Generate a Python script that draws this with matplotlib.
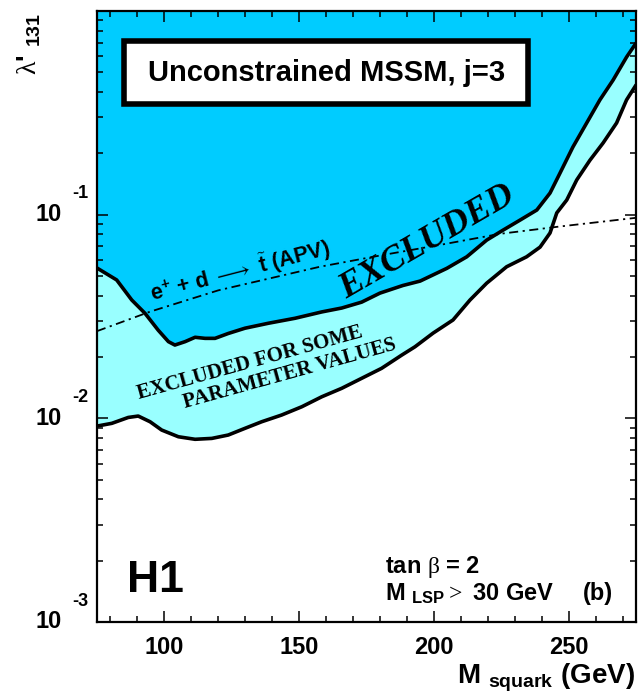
import matplotlib
matplotlib.use('Agg')
import matplotlib.pyplot as plt
import numpy as np
from matplotlib.patches import Rectangle
from matplotlib.ticker import MultipleLocator, LogLocator, NullFormatter
import matplotlib.transforms as mtransforms

# ---------------- data ----------------
X_MIN, X_MAX = 75, 275
Y_MIN, Y_MAX = 1e-3, 1.0

# boundary of the fully excluded region (dark)
upper_x = [75, 82.3, 87.9, 92.8, 97.7, 101.5, 103.9, 107.7, 111.4, 115.1, 118.8,
           123.7, 129.9, 138.6, 148.5, 158.4, 165.8, 173.2, 180.0, 188.5, 194.9,
           204.8, 212.2, 219.6, 225.7, 232.0, 238.2, 243.1, 246.8, 251.6, 256.7,
           261.6, 266.5, 271.5, 275]
upper_y = [0.0547, 0.0478, 0.0381, 0.0328, 0.0271, 0.0238, 0.0229, 0.0238, 0.0250,
           0.0247, 0.0247, 0.0261, 0.0277, 0.0293, 0.0310, 0.0333, 0.0348, 0.0372,
           0.0412, 0.0449, 0.0472, 0.0545, 0.0621, 0.0750, 0.0840, 0.0941, 0.1054,
           0.1277, 0.160, 0.215, 0.282, 0.366, 0.458, 0.594, 0.695]

# boundary of the region excluded for some parameter values (light)
lower_x = [75, 80.5, 86.6, 90.3, 94.7, 99.0, 105.2, 111.4, 117.6, 123.7, 129.9,
           136.1, 143.5, 151.0, 158.4, 165.8, 173.2, 180.6, 188.1, 193.0, 199.7,
           207.1, 213.4, 219.6, 227.0, 234.4, 239.4, 243.1, 245.6, 249.3, 253.0,
           257.9, 262.8, 267.8, 271.5, 275]
lower_y = [0.00916, 0.00945, 0.0101, 0.01026, 0.00962, 0.00876, 0.00812, 0.00789,
           0.00797, 0.00828, 0.00893, 0.00962, 0.01038, 0.0114, 0.01276, 0.01404,
           0.01572, 0.0176, 0.02045, 0.02246, 0.0262, 0.0304, 0.0381, 0.0461,
           0.0555, 0.0621, 0.0693, 0.0813, 0.102, 0.118, 0.148, 0.185, 0.225,
           0.282, 0.366, 0.433]

# APV bound (dash-dotted)
apv_x = [75, 94.7, 120, 157.7, 180, 203.4, 224.5, 246.8, 275]
apv_y = [0.0268, 0.0334, 0.0425, 0.0555, 0.0630, 0.0715, 0.0805, 0.0875, 0.0965]

x_ticks = [100, 150, 200, 250]
x_tick_labels = ['100', '150', '200', '250']
y_ticks = [1e-3, 1e-2, 1e-1]
y_tick_exps = ['-3', '-2', '-1']

DARK = '#00ccff'
LIGHT = '#99ffff'

# ---------------- figure ----------------
plt.rcParams['font.family'] = ['Liberation Sans', 'DejaVu Sans']
plt.rcParams['mathtext.fontset'] = 'custom'
plt.rcParams['mathtext.rm'] = 'Liberation Serif'
plt.rcParams['mathtext.bf'] = 'Liberation Sans:bold'
plt.rcParams['mathtext.it'] = 'Liberation Sans:bold'

fig = plt.figure(figsize=(6.41, 6.98), dpi=100)
ax = fig.add_axes([97/641, 76/698, 539/641, 611/698])
ax.set_yscale('log')
ax.set_xlim(X_MIN, X_MAX)
ax.set_ylim(Y_MIN, Y_MAX)

# filled regions
ax.fill(np.r_[lower_x, upper_x[::-1]], np.r_[lower_y, upper_y[::-1]],
        color=LIGHT, lw=0, zorder=1)
ax.fill_between(upper_x, upper_y, Y_MAX, color=DARK, lw=0, zorder=1)

# boundary lines
ax.plot(upper_x, upper_y, color='k', lw=2.6, solid_joinstyle='round',
        solid_capstyle='round', zorder=3)
ax.plot(lower_x, lower_y, color='k', lw=2.6, solid_joinstyle='round',
        solid_capstyle='round', zorder=3)
ax.plot(apv_x, apv_y, color='k', lw=1.3, linestyle=(0, (5, 2.5, 1.2, 2.5)), zorder=3)

# ticks
ax.set_xticks(x_ticks)
ax.set_xticklabels(x_tick_labels, fontsize=17, fontweight='bold')
ax.xaxis.set_minor_locator(MultipleLocator(10))
ax.set_yticks(y_ticks)
ax.set_yticklabels([])
ax.yaxis.set_minor_locator(LogLocator(base=10, subs=np.arange(2, 10)))
ax.yaxis.set_minor_formatter(NullFormatter())
ax.tick_params(which='both', direction='in', top=True, right=True, width=1.1)
ax.tick_params(which='major', length=8)
ax.tick_params(which='minor', length=4)
ax.tick_params(axis='x', which='major', pad=10)
for s in ax.spines.values():
    s.set_linewidth(1.6)

# y tick labels: "10" with detached exponent (ROOT style)
blend = mtransforms.blended_transform_factory(ax.transAxes, ax.transData)
blend_up = mtransforms.offset_copy(blend, fig=fig, y=21, units='dots')
for v, e in zip(y_ticks, y_tick_exps):
    ax.text(-0.065, v, '10', transform=blend, ha='right', va='center',
            fontsize=17, fontweight='bold', clip_on=False)
    ax.text(-0.046, v, e, transform=blend_up, ha='left', va='center',
            fontsize=13, fontweight='bold', clip_on=False)

# axis labels
fig.text(29/641, 1 - 13/698, r"$\mathrm{\lambda}$' $_{\mathbf{131}}$", rotation=90,
         ha='center', va='top', fontsize=20, fontweight='bold')
fig.text(635/641, 1 - 683/698, r"M $_{\mathbf{squark}}$ (GeV)", ha='right',
         va='baseline', fontsize=20, fontweight='bold')

# title box
ax.add_patch(Rectangle((0.051, 0.847), 0.7486, 0.1031, transform=ax.transAxes,
                       facecolor='white', edgecolor='black', lw=4, zorder=5))
ax.text(0.4258, 0.899, 'Unconstrained MSSM, j=3', transform=ax.transAxes,
        ha='center', va='center', fontsize=21, fontweight='bold', zorder=6)

# region labels
ax.text(0.612, 0.622, 'EXCLUDED', transform=ax.transAxes, ha='center', va='center',
        rotation=30, fontsize=26, fontweight='bold', fontstyle='italic',
        family='Liberation Serif', zorder=4)
ax.text(0.2870, 0.4165, 'EXCLUDED FOR SOME', transform=ax.transAxes,
        ha='center', va='baseline', rotation=15.5, rotation_mode='anchor',
        fontsize=15, fontweight='bold', family='Liberation Serif', zorder=4)
ax.text(0.3608, 0.3977, 'PARAMETER VALUES', transform=ax.transAxes,
        ha='center', va='baseline', rotation=15.5, rotation_mode='anchor',
        fontsize=15, fontweight='bold', family='Liberation Serif', zorder=4)
ax.text(0.2696, 0.5625, r"e$^{\mathbf{+}}$ + d $\longrightarrow$ $\tilde{\mathbf{t}}$ (APV)",
        transform=ax.transAxes, ha='center', va='baseline', rotation=14.5,
        rotation_mode='anchor', fontsize=15.5, fontweight='bold', zorder=4)

# annotations
ax.text(0.056, 0.049, 'H1', transform=ax.transAxes, ha='left', va='baseline',
        fontsize=32, fontweight='bold')
ax.text(0.534, 0.080, r'tan $\mathrm{\beta}$ = 2', transform=ax.transAxes,
        ha='left', va='baseline', fontsize=17, fontweight='bold')
ax.text(0.534, 0.036, r'M $_{\mathbf{LSP}}$$\mathrm{>}$ 30 GeV',
        transform=ax.transAxes, ha='left', va='baseline', fontsize=17, fontweight='bold')
ax.text(0.957, 0.036, '(b)', transform=ax.transAxes, ha='right', va='baseline',
        fontsize=17, fontweight='bold')

fig.savefig('out.png', dpi=100)
